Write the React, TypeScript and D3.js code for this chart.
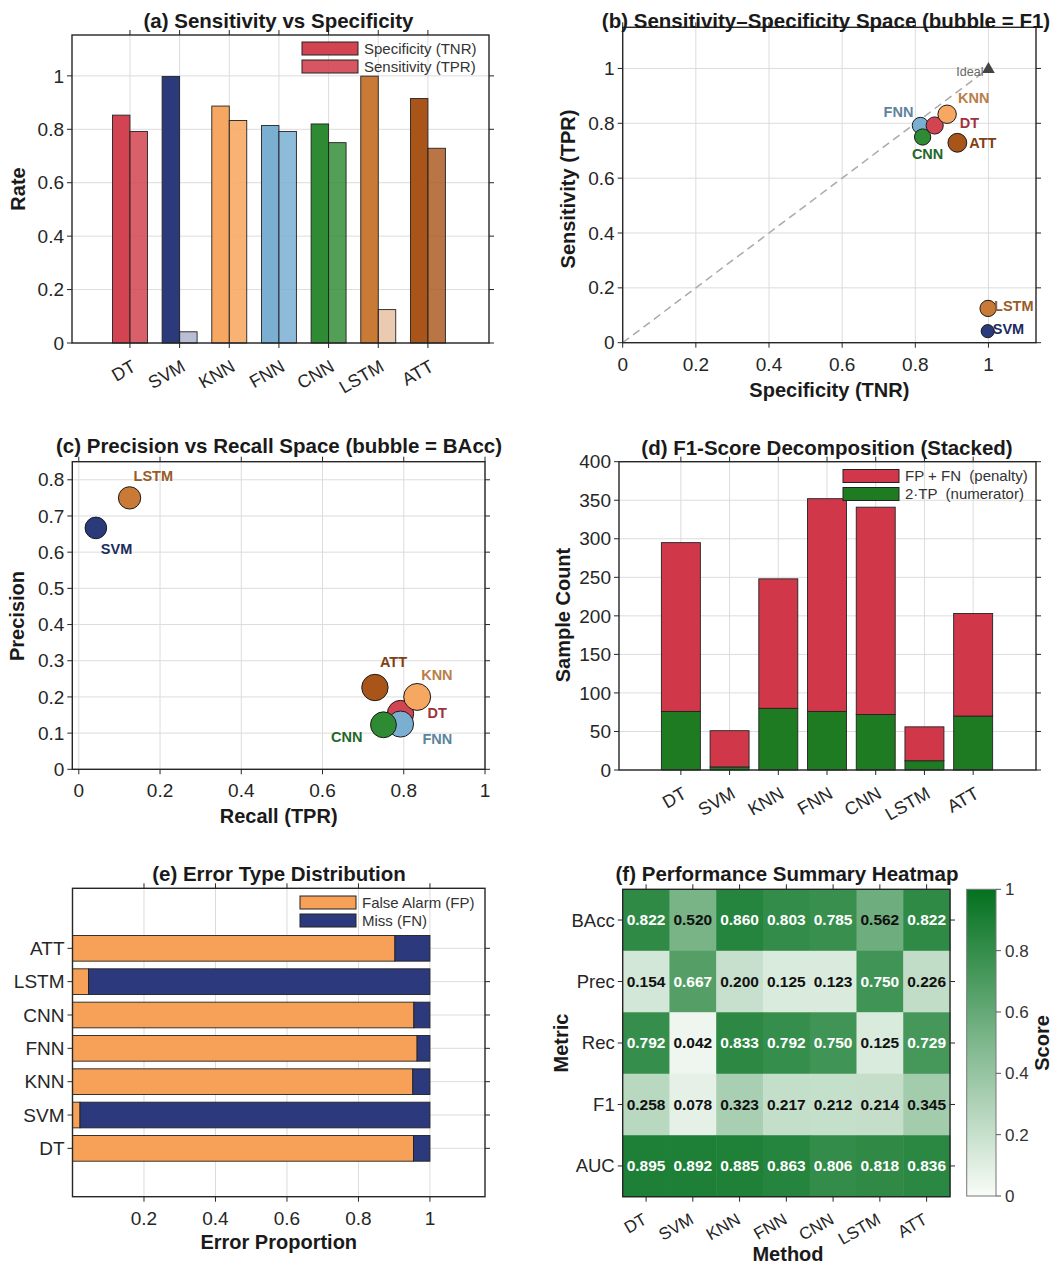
import React from 'react';
import * as d3 from 'd3';

// ---------------- DATA ----------------
const methods = ['DT', 'SVM', 'KNN', 'FNN', 'CNN', 'LSTM', 'ATT'];
const specificity = [0.853, 0.998, 0.887, 0.814, 0.82, 0.999, 0.915];
const sensitivity = [0.792, 0.042, 0.833, 0.792, 0.75, 0.125, 0.729];
const precision = [0.154, 0.667, 0.2, 0.125, 0.123, 0.75, 0.226];
const f1 = [0.258, 0.078, 0.323, 0.217, 0.212, 0.214, 0.345];
const bacc = [0.822, 0.52, 0.86, 0.803, 0.785, 0.562, 0.822];
const auc = [0.895, 0.892, 0.885, 0.863, 0.806, 0.818, 0.836];
const twoTP = [76, 4, 80, 76, 72, 12, 70];
const fpPlusFn = [219, 47, 168, 276, 269, 44, 133];
const fpShare = [0.954, 0.021, 0.952, 0.964, 0.955, 0.045, 0.902];
const heatRows = ['BAcc', 'Prec', 'Rec', 'F1', 'AUC'];

// ---------------- STYLE ----------------
const methodColors = ['#d24452', '#2b3a7b', '#f6a862', '#7bafd2', '#2f8a34', '#c97a37', '#a9551a'];
const F = "'Liberation Sans', Arial, Helvetica, sans-serif";
const AX = '#262626';
const GRID = '#dcdcdc';
const TFS = 19; // tick font size

// label layout for scatter panels: [dx, dy, anchor]
const labelB: [number, number, string][] = [
  [25, -3, 'start'], [5, -2, 'start'], [11, -16, 'start'], [-7, -14, 'end'],
  [5, 17, 'middle'], [6, -2, 'start'], [12, 0, 'start'],
];
const labelC: [number, number, string][] = [
  [27, -1, 'start'], [5, 21, 'start'], [4, -22, 'start'], [22, 15, 'start'],
  [-21, 12, 'end'], [4, -22, 'start'], [5, -26, 'start'],
];
const drawOrderB = [3, 0, 2, 4, 6, 5, 1];

type Lbl = { p: number; t: string };

function Grid({ L, R, T, B, xs = [], ys = [] }: any) {
  return (
    <g>
      {xs.map((x: number, i: number) => (
        <line key={'gx' + i} x1={x} x2={x} y1={T} y2={B} stroke={GRID} strokeWidth={1} />
      ))}
      {ys.map((y: number, i: number) => (
        <line key={'gy' + i} x1={L} x2={R} y1={y} y2={y} stroke={GRID} strokeWidth={1} />
      ))}
    </g>
  );
}

function Frame({ L, R, T, B, xt = [], yt = [], rotX = false, rotDx = 7, rotDy = 27, xFs = 18, yFs = TFS }: any) {
  const tl = 5;
  return (
    <g>
      {xt.map((d: Lbl, i: number) => (
        <g key={'xt' + i}>
          <line x1={d.p} x2={d.p} y1={B} y2={B + tl} stroke={AX} strokeWidth={1} />
          <line x1={d.p} x2={d.p} y1={T} y2={T - tl} stroke={AX} strokeWidth={1} />
          {rotX ? (
            <text transform={`translate(${d.p + rotDx},${B + rotDy}) rotate(-30)`} textAnchor="end" fontSize={xFs} fill={AX}>
              {d.t}
            </text>
          ) : (
            <text x={d.p} y={B + 28} textAnchor="middle" fontSize={TFS} fill={AX}>
              {d.t}
            </text>
          )}
        </g>
      ))}
      {yt.map((d: Lbl, i: number) => (
        <g key={'yt' + i}>
          <line x1={L} x2={L - tl} y1={d.p} y2={d.p} stroke={AX} strokeWidth={1} />
          <line x1={R} x2={R + tl} y1={d.p} y2={d.p} stroke={AX} strokeWidth={1} />
          <text x={L - 8} y={d.p} dy="0.35em" textAnchor="end" fontSize={yFs} fill={AX}>
            {d.t}
          </text>
        </g>
      ))}
      <rect x={L} y={T} width={R - L} height={B - T} fill="none" stroke={AX} strokeWidth={1.4} />
    </g>
  );
}

function Title({ x, y, t }: any) {
  return (
    <text x={x} y={y} textAnchor="middle" fontSize={20.5} fontWeight="bold" fill="#1a1a1a">
      {t}
    </text>
  );
}
function XLabel({ x, y, t }: any) {
  return (
    <text x={x} y={y} textAnchor="middle" fontSize={20} fontWeight="bold" fill="#1a1a1a">
      {t}
    </text>
  );
}
function YLabel({ x, y, t }: any) {
  return (
    <text transform={`translate(${x},${y}) rotate(-90)`} textAnchor="middle" dominantBaseline="central" fontSize={20} fontWeight="bold" fill="#1a1a1a">
      {t}
    </text>
  );
}

function Legend({ x, y, items, sw = 56, sh = 13, gap = 18 }: any) {
  return (
    <g>
      {items.map((it: any, i: number) => (
        <g key={i}>
          <rect x={x} y={y + i * gap} width={sw} height={sh} fill={it.c} fillOpacity={it.o ?? 1} stroke="#222" strokeWidth={1} />
          <text x={x + sw + 6} y={y + i * gap + sh / 2} dy="0.35em" fontSize={15} fill="#333" style={{ whiteSpace: 'pre' }}>
            {it.t}
          </text>
        </g>
      ))}
    </g>
  );
}

const fmt = (v: number) => d3.format('~g')(+v.toFixed(3));

// ---------------- (a) ----------------
function PanelA() {
  const L = 72, R = 489, T = 35, B = 343;
  const x = d3.scaleLinear().domain([-1.167, 7.23]).range([L, R]);
  const y = d3.scaleLinear().domain([0, 1.153]).range([B, T]);
  const bw = x(0.352) - x(0);
  const yv = [0, 0.2, 0.4, 0.6, 0.8, 1];
  const xs = methods.map((_, i) => x(i));
  return (
    <g>
      <Grid L={L} R={R} T={T} B={B} xs={xs} ys={yv.map(y)} />
      {methods.map((m, i) => (
        <g key={m}>
          <rect x={x(i) - bw} y={y(specificity[i])} width={bw} height={B - y(specificity[i])} fill={methodColors[i]} stroke="#222" strokeWidth={0.9} />
          <rect x={x(i)} y={y(sensitivity[i])} width={bw} height={B - y(sensitivity[i])} fill={methodColors[i]} fillOpacity={0.3 + 0.7 * sensitivity[i]} stroke="#222" strokeWidth={0.9} />
        </g>
      ))}
      <Legend x={302} y={42} items={[{ c: methodColors[0], t: 'Specificity (TNR)' }, { c: methodColors[0], o: 0.9, t: 'Sensitivity (TPR)' }]} />
      <Frame L={L} R={R} T={T} B={B} rotX xt={methods.map((m, i) => ({ p: x(i), t: m }))} yt={yv.map((v) => ({ p: y(v), t: fmt(v) }))} />
      <Title x={(L + R) / 2 - 2} y={28} t="(a) Sensitivity vs Specificity" />
      <YLabel x={18} y={189} t="Rate" />
    </g>
  );
}

// ---------------- (b) ----------------
function PanelB() {
  const L = 622.7, R = 1036, T = 27.3, B = 342.7;
  const x = d3.scaleLinear().domain([0, 1.13]).range([L, R]);
  const y = d3.scaleLinear().domain([0, 1.15]).range([B, T]);
  const v = [0, 0.2, 0.4, 0.6, 0.8, 1];
  const r = (f: number) => Math.sqrt(30 + 170 * f);
  const tri = d3.symbol().type(d3.symbolTriangle).size(70)() as string;
  return (
    <g>
      <Grid L={L} R={R} T={T} B={B} xs={v.map(x)} ys={v.map(y)} />
      <line x1={x(0)} y1={y(0)} x2={x(1)} y2={y(1)} stroke="#aaaaaa" strokeWidth={1.5} strokeDasharray="8,5" />
      {drawOrderB.map((i) => (
        <circle key={i} cx={x(specificity[i])} cy={y(sensitivity[i])} r={r(f1[i])} fill={methodColors[i]} stroke="#1a1a1a" strokeWidth={1} />
      ))}
      {methods.map((m, i) => (
        <text key={m} x={x(specificity[i]) + labelB[i][0]} y={y(sensitivity[i]) + labelB[i][1]} dy="0.35em" textAnchor={labelB[i][2] as any} fontSize={14.5} fontWeight="bold" fill={d3.color(methodColors[i])!.darker(0.8).toString()}>
          {m}
        </text>
      ))}
      <path d={tri} transform={`translate(${x(1)},${y(1) + 1})`} fill="#444" />
      <text x={x(1) - 5} y={y(1) + 3.5} dy="0.35em" textAnchor="end" fontSize={12.5} fill="#666">
        Ideal
      </text>
      <Frame L={L} R={R} T={T} B={B} xt={v.map((d) => ({ p: x(d), t: fmt(d) }))} yt={v.map((d) => ({ p: y(d), t: fmt(d) }))} />
      <Title x={826} y={28} t="(b) Sensitivity–Specificity Space (bubble = F1)" />
      <XLabel x={(L + R) / 2} y={397} t="Specificity (TNR)" />
      <YLabel x={568} y={189} t="Sensitivity (TPR)" />
    </g>
  );
}

// ---------------- (c) ----------------
function PanelC() {
  const L = 72.3, R = 485, T = 461.7, B = 769.3;
  const x = d3.scaleLinear().domain([-0.016, 1]).range([L, R]);
  const y = d3.scaleLinear().domain([0, 0.85]).range([B, T]);
  const xv = [0, 0.2, 0.4, 0.6, 0.8, 1];
  const yv = [0, 0.1, 0.2, 0.3, 0.4, 0.5, 0.6, 0.7, 0.8];
  const r = (b: number) => Math.sqrt(18 + 190 * b);
  return (
    <g>
      <Grid L={L} R={R} T={T} B={B} xs={xv.map(x)} ys={yv.map(y)} />
      {methods.map((m, i) => (
        <circle key={m} cx={x(sensitivity[i])} cy={y(precision[i])} r={r(bacc[i])} fill={methodColors[i]} stroke="#1a1a1a" strokeWidth={1} />
      ))}
      {methods.map((m, i) => (
        <text key={m} x={x(sensitivity[i]) + labelC[i][0]} y={y(precision[i]) + labelC[i][1]} dy="0.35em" textAnchor={labelC[i][2] as any} fontSize={14.5} fontWeight="bold" fill={d3.color(methodColors[i])!.darker(0.8).toString()}>
          {m}
        </text>
      ))}
      <Frame L={L} R={R} T={T} B={B} xt={xv.map((d) => ({ p: x(d), t: fmt(d) }))} yt={yv.map((d) => ({ p: y(d), t: fmt(d) }))} />
      <Title x={279} y={453} t="(c) Precision vs Recall Space (bubble = BAcc)" />
      <XLabel x={(L + R) / 2} y={823} t="Recall (TPR)" />
      <YLabel x={17} y={616} t="Precision" />
    </g>
  );
}

// ---------------- (d) ----------------
function PanelD() {
  const L = 619, R = 1036, T = 461.7, B = 770;
  const x = d3.scaleLinear().domain([-1.27, 7.29]).range([L, R]);
  const y = d3.scaleLinear().domain([0, 400]).range([B, T]);
  const yv = d3.range(0, 401, 50);
  const bw = x(0.8) - x(0);
  const red = '#d0384a', green = '#1f7b22';
  return (
    <g>
      <Grid L={L} R={R} T={T} B={B} xs={methods.map((_, i) => x(i))} ys={yv.map(y)} />
      {methods.map((m, i) => (
        <g key={m}>
          <rect x={x(i) - bw / 2} y={y(twoTP[i])} width={bw} height={B - y(twoTP[i])} fill={green} stroke="#222" strokeWidth={0.9} />
          <rect x={x(i) - bw / 2} y={y(twoTP[i] + fpPlusFn[i])} width={bw} height={y(twoTP[i]) - y(twoTP[i] + fpPlusFn[i])} fill={red} stroke="#222" strokeWidth={0.9} />
        </g>
      ))}
      <Legend x={843} y={469.5} items={[{ c: red, t: 'FP + FN  (penalty)' }, { c: green, t: '2·TP  (numerator)' }]} />
      <Frame L={L} R={R} T={T} B={B} rotX xt={methods.map((m, i) => ({ p: x(i), t: m }))} yt={yv.map((d) => ({ p: y(d), t: String(d) }))} />
      <Title x={827} y={455} t="(d) F1-Score Decomposition (Stacked)" />
      <YLabel x={563} y={615} t="Sample Count" />
    </g>
  );
}

// ---------------- (e) ----------------
function PanelE() {
  const L = 72.5, R = 485, T = 888.3, B = 1196.7;
  const x = d3.scaleLinear().domain([0, 1.154]).range([L, R]);
  const y = d3.scaleLinear().domain([-1.45, 7.8]).range([B, T]);
  const xv = [0.2, 0.4, 0.6, 0.8, 1];
  const bh = y(0) - y(0.77);
  const orange = '#f6a157', navy = '#2c3a7d';
  return (
    <g>
      <Grid L={L} R={R} T={T} B={B} xs={xv.map(x)} ys={methods.map((_, i) => y(i))} />
      {methods.map((m, i) => (
        <g key={m}>
          <rect x={x(0)} y={y(i) - bh / 2} width={x(fpShare[i]) - x(0)} height={bh} fill={orange} stroke="#222" strokeWidth={0.9} />
          <rect x={x(fpShare[i])} y={y(i) - bh / 2} width={x(1) - x(fpShare[i])} height={bh} fill={navy} stroke="#222" strokeWidth={0.9} />
        </g>
      ))}
      <Legend x={300} y={896} items={[{ c: orange, t: 'False Alarm (FP)' }, { c: navy, t: 'Miss (FN)' }]} />
      <Frame L={L} R={R} T={T} B={B} xt={xv.map((d) => ({ p: x(d), t: fmt(d) }))} yt={methods.map((m, i) => ({ p: y(i), t: m }))} />
      <Title x={279} y={881} t="(e) Error Type Distribution" />
      <XLabel x={(L + R) / 2} y={1249} t="Error Proportion" />
    </g>
  );
}

// ---------------- (f) ----------------
function PanelF() {
  const L = 622.7, R = 950, T = 889.3, B = 1196.7;
  const x = d3.scaleBand().domain(methods).range([L, R]);
  const y = d3.scaleBand().domain(heatRows).range([T, B]);
  const matrix = [bacc, precision, sensitivity, f1, auc];
  const cmap = d3.interpolateRgb('#f8fcf8', '#03711f');
  const cb = { L: 966.7, R: 996, T: 889.3, B: 1196 };
  const cy = d3.scaleLinear().domain([0, 1]).range([cb.B, cb.T]);
  const cv = [0, 0.2, 0.4, 0.6, 0.8, 1];
  const bwid = x.bandwidth(), bht = y.bandwidth();
  return (
    <g>
      <defs>
        <linearGradient id="cbar" x1="0" y1="1" x2="0" y2="0">
          {d3.range(0, 1.0001, 0.1).map((t) => (
            <stop key={t} offset={t} stopColor={cmap(t)} />
          ))}
        </linearGradient>
      </defs>
      {heatRows.map((rname, ri) =>
        methods.map((m, ci) => {
          const v = matrix[ri][ci];
          return (
            <g key={rname + m}>
              <rect x={x(m)!} y={y(rname)!} width={bwid + 0.5} height={bht + 0.5} fill={cmap(v)} />
              <text x={x(m)! + bwid / 2} y={y(rname)! + bht / 2} dy="0.35em" textAnchor="middle" fontSize={15.5} fontWeight="bold" fill={v > 0.6 ? '#ffffff' : '#111111'}>
                {v.toFixed(3)}
              </text>
            </g>
          );
        })
      )}
      <Frame L={L} R={R} T={T} B={B} rotX rotDx={2} rotDy={26} xFs={17} yFs={18.5} xt={methods.map((m) => ({ p: x(m)! + bwid / 2, t: m }))} yt={heatRows.map((r) => ({ p: y(r)! + bht / 2, t: r }))} />
      <rect x={cb.L} y={cb.T} width={cb.R - cb.L} height={cb.B - cb.T} fill="url(#cbar)" stroke="#777" strokeWidth={1} />
      {cv.map((v) => (
        <g key={v}>
          <line x1={cb.R} x2={cb.R + 5} y1={cy(v)} y2={cy(v)} stroke="#555" strokeWidth={1} />
          <text x={1005} y={cy(v)} dy="0.35em" fontSize={17} fill="#333">
            {fmt(v)}
          </text>
        </g>
      ))}
      <Title x={787} y={881} t="(f) Performance Summary Heatmap" />
      <XLabel x={788} y={1261} t="Method" />
      <YLabel x={561} y={1043} t="Metric" />
      <YLabel x={1042} y={1043} t="Score" />
    </g>
  );
}

export default function App() {
  return (
    <svg width={1063} height={1267} style={{ position: 'absolute', left: 0, top: 0 }} fontFamily={F}>
      <rect width={1063} height={1267} fill="#ffffff" />
      <PanelA />
      <PanelB />
      <PanelC />
      <PanelD />
      <PanelE />
      <PanelF />
    </svg>
  );
}
